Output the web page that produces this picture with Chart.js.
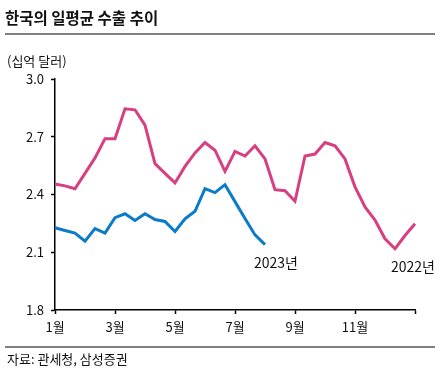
<!DOCTYPE html>
<html>
<head>
<meta charset="utf-8">
<script src="https://cdn.jsdelivr.net/npm/chart.js@4/dist/chart.umd.min.js"></script>
<style>
    html, body { margin: 0; padding: 0; background: #fff; }
    #wrap { position: relative; width: 444px; height: 375px; font-family: "Noto Sans CJK KR", "Noto Sans", sans-serif; color: #111; }
    #wrap canvas { position: absolute; left: 0; top: 0; }
    .txt { position: absolute; white-space: nowrap; }
    .rule { position: absolute; left: 5px; width: 430px; height: 2px; background: #808080; }
    #title { left: 5px; top: 10px; font-size: 15.5px; line-height: 15.5px; font-weight: bold; }
    #unit { left: 7px; top: 54px; font-size: 13px; line-height: 13px; }
    #source { left: 7px; top: 352px; font-size: 13px; line-height: 13px; }
    .tag { font-size: 14px; line-height: 14px; }
</style>
</head>
<body>
<div id="wrap">
    <canvas id="exportChart" width="444" height="375"></canvas>
    <div class="txt" id="title">한국의 일평균 수출 추이</div>
    <div class="rule" style="top:33px"></div>
    <div class="txt" id="unit">(십억 달러)</div>
    <div class="txt tag" style="left:254px; top:255px">2023년</div>
    <div class="txt tag" style="left:391px; top:259px">2022년</div>
    <div class="rule" style="top:346px"></div>
    <div class="txt" id="source">자료: 관세청, 삼성증권</div>
</div>
<script>
// 10-day periods (상순/중순/하순), Jan through the start of the next year
const periods = [
    '1상', '1중', '1하', '2상', '2중', '2하', '3상', '3중', '3하',
    '4상', '4중', '4하', '5상', '5중', '5하', '6상', '6중', '6하',
    '7상', '7중', '7하', '8상', '8중', '8하', '9상', '9중', '9하',
    '10상', '10중', '10하', '11상', '11중', '11하', '12상', '12중', '12하',
    '13상'
];
const monthTicks = ['1월', '3월', '5월', '7월', '9월', '11월', ''];

// daily average exports, billion USD
const exports2022 = [
    2.455, 2.445, 2.43, 2.51, 2.59, 2.69, 2.69, 2.845, 2.84, 2.76,
    2.56, 2.51, 2.46, 2.546, 2.616, 2.67, 2.63, 2.52, 2.624, 2.60,
    2.653, 2.585, 2.425, 2.42, 2.365, 2.60, 2.61, 2.67, 2.653, 2.585,
    2.44, 2.335, 2.267, 2.17, 2.118, 2.187, 2.248
];
const exports2023 = [
    2.227, 2.213, 2.20, 2.158, 2.223, 2.20, 2.28, 2.30, 2.265, 2.30,
    2.27, 2.26, 2.208, 2.274, 2.313, 2.43, 2.41, 2.451, 2.363, 2.275,
    2.19, 2.14
];

const yMin = 1.8;
const yMax = 3.0;
const yStep = 0.3;

const PINK = '#D83F83';
const BLUE = '#0A7BC9';

const ctx = document.getElementById('exportChart');
new Chart(ctx, {
    type: 'line',
    data: {
        labels: periods,
        datasets: [
            { label: '2022년', data: exports2022, borderColor: PINK, borderWidth: 3, pointRadius: 0, tension: 0 },
            { label: '2023년', data: exports2023, borderColor: BLUE, borderWidth: 3, pointRadius: 0, tension: 0 }
        ]
    },
    options: {
        responsive: false,
        animation: false,
        layout: { padding: { top: 79, left: 0, right: 29, bottom: 35 } },
        plugins: { legend: { display: false }, tooltip: { enabled: false } },
        scales: {
            x: {
                type: 'category',
                offset: false,
                grid: {
                    drawOnChartArea: false,
                    tickLength: 4,
                    tickWidth: 1.5,
                    tickColor: (c) => (c.index % 6 === 0 ? '#000' : 'rgba(0,0,0,0)')
                },
                border: { color: '#000', width: 1.5 },
                ticks: {
                    autoSkip: false,
                    maxRotation: 0,
                    padding: 5,
                    color: '#111',
                    font: { family: '"Noto Sans CJK KR", sans-serif', size: 13 },
                    callback: (v, i) => (i % 6 === 0 ? monthTicks[i / 6] : '')
                },
                afterFit: (s) => { s.height = 30; }
            },
            y: {
                min: yMin,
                max: yMax,
                grid: { drawOnChartArea: false, tickLength: 4, tickWidth: 1.5, tickColor: '#000' },
                border: { color: '#000', width: 1.5 },
                ticks: {
                    stepSize: yStep,
                    padding: 7,
                    color: '#111',
                    font: { family: '"Noto Sans CJK KR", sans-serif', size: 13 },
                    callback: (v) => Number(v).toFixed(1)
                },
                afterFit: (s) => { s.width = 55; }
            }
        }
    }
});
</script>
</body>
</html>
